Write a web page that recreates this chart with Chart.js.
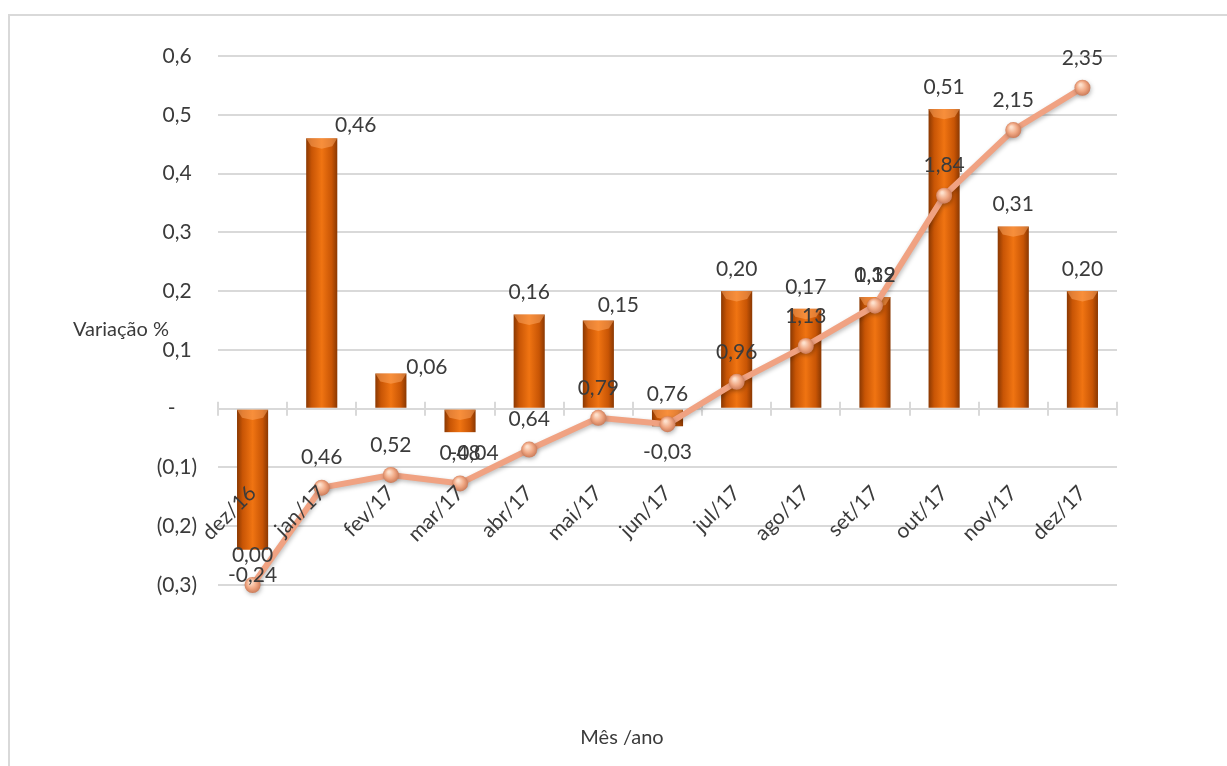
<!DOCTYPE html>
<html lang="pt">
<head>
<meta charset="utf-8">
<script src="https://cdn.jsdelivr.net/npm/chart.js@4.4.1/dist/chart.umd.min.js"></script>
<style>
 html, body { margin: 0; padding: 0; background: #fff; overflow: hidden; }
 #wrap { position: relative; width: 1227px; height: 766px; }
 #frame { position: absolute; left: 8px; top: 14px; width: 1300px; height: 800px; border: 2px solid #d9d9d9; box-sizing: border-box; }
 canvas { position: absolute; left: 0; top: 0; }
</style>
</head>
<body>
<div id="wrap">
 <div id="frame"></div>
 <canvas id="grafico" width="1227" height="766"></canvas>
</div>
<script>
// dados
const meses = ["dez/16", "jan/17", "fev/17", "mar/17", "abr/17", "mai/17", "jun/17",
 "jul/17", "ago/17", "set/17", "out/17", "nov/17", "dez/17"];
const variacaoMensal = [-0.24, 0.46, 0.06, -0.04, 0.16, 0.15, -0.03, 0.20, 0.17, 0.19, 0.51, 0.31, 0.20];
const acumulado = [0.00, 0.46, 0.52, 0.48, 0.64, 0.79, 0.76, 0.96, 1.13, 1.32, 1.84, 2.15, 2.35];
const limitesY = [-0.3, 0.6];
const limitesAcum = [0, 2.5];

const FONTE = "Lato, 'Open Sans', sans-serif";
const COR_TEXTO = "#3b3b3b";
const LARGURA_BARRA = 0.45;

// deslocamentos manuais dos rótulos das barras (como no original)
const ajusteRotulos = { 1: [34, 9], 2: [36, 16], 3: [14, -5], 5: [20, 7] };

const virgula = (v, casas) => v.toFixed(casas).replace(".", ",");

function rotuloEixoY(v) {
 if (Math.abs(v) < 1e-9) return "-    ";
 if (v > 0) return virgula(v, 1) + " ";
 return "(" + virgula(-v, 1) + ")";
}

function corBarra(ctx) {
 const chart = ctx.chart;
 const x = chart.scales.x;
 if (!x || !chart.chartArea) return "#e8680c";
 const cx = x.getPixelForValue(ctx.dataIndex);
 const w = (x.width / meses.length) * LARGURA_BARRA;
 const g = chart.ctx.createLinearGradient(cx - w / 2, 0, cx + w / 2, 0);
 g.addColorStop(0, "#8a3802");
 g.addColorStop(0.18, "#c85505");
 g.addColorStop(0.5, "#f07412");
 g.addColorStop(0.82, "#c85505");
 g.addColorStop(1, "#8a3802");
 return g;
}

function corPonto(ctx) {
 const chart = ctx.chart;
 const x = chart.scales.x, y2 = chart.scales.y2;
 if (!x || !y2 || !chart.chartArea) return "#eea07e";
 const px = x.getPixelForValue(ctx.dataIndex);
 const py = y2.getPixelForValue(acumulado[ctx.dataIndex]);
 const g = chart.ctx.createRadialGradient(px - 2, py - 3, 1, px, py, 9);
 g.addColorStop(0, "#fde0cc");
 g.addColorStop(0.5, "#f0a884");
 g.addColorStop(1, "#c47250");
 return g;
}

const chanfro = {
 id: "chanfro",
 afterDatasetDraw(chart, args) {
  if (args.index !== 0) return;
  const c = chart.ctx;
  c.save();
  args.meta.data.forEach((el) => {
   const w = el.width;
   const topo = Math.min(el.y, el.base);
   const alt = Math.abs(el.base - el.y);
   const h = Math.min(8, alt / 2);
   const l = el.x - w / 2, r = el.x + w / 2;
   c.beginPath();
   c.moveTo(l, topo);
   c.lineTo(r, topo);
   c.lineTo(r - 5, topo + h);
   c.lineTo(el.x, topo + h * 1.3);
   c.lineTo(l + 5, topo + h);
   c.closePath();
   c.fillStyle = "rgba(255, 170, 100, 0.5)";
   c.fill();
  });
  c.restore();
 },
};

const sombraLinha = {
 id: "sombraLinha",
 beforeDatasetDraw(chart, args) {
  if (args.index !== 1) return;
  chart.ctx.save();
  chart.ctx.shadowColor = "rgba(0,0,0,0.25)";
  chart.ctx.shadowBlur = 4;
  chart.ctx.shadowOffsetX = 1;
  chart.ctx.shadowOffsetY = 2;
 },
 afterDatasetDraw(chart, args) {
  if (args.index !== 1) return;
  chart.ctx.restore();
 },
};

const marcasEixoX = {
 id: "marcasEixoX",
 beforeDatasetsDraw(chart) {
  const c = chart.ctx;
  const x = chart.scales.x, y = chart.scales.y;
  const y0 = y.getPixelForValue(0);
  const passo = x.width / meses.length;
  c.save();
  c.strokeStyle = "#d9d9d9";
  c.lineWidth = 2;
  c.beginPath();
  for (let i = 0; i <= meses.length; i++) {
   const px = Math.round(x.left + i * passo);
   c.moveTo(px, y0 - 7);
   c.lineTo(px, y0 + 7);
  }
  c.stroke();
  c.restore();
 },
};

const rotulos = {
 id: "rotulos",
 afterDatasetsDraw(chart) {
  const c = chart.ctx;
  c.save();
  c.font = `21px ${FONTE}`;
  c.fillStyle = COR_TEXTO;
  c.textAlign = "center";
  c.textBaseline = "middle";

  const barras = chart.getDatasetMeta(0).data;
  barras.forEach((el, i) => {
   const v = variacaoMensal[i];
   const aj = ajusteRotulos[i] || [0, 0];
   const y = v >= 0 ? el.y - 22 : el.y + 26;
   c.fillText(virgula(v, 2), el.x + aj[0], y + aj[1]);
  });

  const pontos = chart.getDatasetMeta(1).data;
  pontos.forEach((el, i) => {
   c.fillText(virgula(acumulado[i], 2), el.x, el.y - 30);
  });

  // títulos dos eixos
  c.font = `20px ${FONTE}`;
  c.textAlign = "left";
  c.fillText("Variação %", 73, chart.scales.y.getPixelForValue(0.15) + 9);
  c.textAlign = "center";
  c.fillText("Mês /ano", 622, 738);
  c.restore();
 },
};

new Chart(document.getElementById("grafico"), {
 data: {
  labels: meses,
  datasets: [
   {
    type: "bar",
    label: "Variação mensal",
    data: variacaoMensal,
    backgroundColor: corBarra,
    borderWidth: 0,
    categoryPercentage: 1,
    barPercentage: LARGURA_BARRA,
    yAxisID: "y",
    order: 2,
   },
   {
    type: "line",
    label: "Acumulado",
    data: acumulado,
    borderColor: "#f0a282",
    borderWidth: 6,
    pointRadius: 8,
    pointBackgroundColor: corPonto,
    pointBorderWidth: 0,
    tension: 0,
    clip: false,
    yAxisID: "y2",
    order: 1,
   },
  ],
 },
 options: {
  responsive: false,
  animation: false,
  devicePixelRatio: 1,
  layout: { padding: { left: 0, right: 110, top: 56, bottom: 181 } },
  plugins: { legend: { display: false }, tooltip: { enabled: false } },
  scales: {
   x: {
    type: "category",
    position: { y: 0 },
    offset: true,
    grid: { display: false },
    border: { display: false },
    ticks: {
     z: 1,
     autoSkip: false,
     minRotation: 45,
     maxRotation: 45,
     padding: 64,
     color: COR_TEXTO,
     font: { family: FONTE, size: 21 },
    },
   },
   y: {
    position: "left",
    min: limitesY[0],
    max: limitesY[1],
    afterFit(scale) { scale.width = 218; },
    grid: { color: "#d9d9d9", lineWidth: 2, drawTicks: false },
    border: { display: false },
    ticks: {
     stepSize: 0.1,
     padding: 21,
     color: COR_TEXTO,
     font: { family: FONTE, size: 21 },
     callback: (v) => rotuloEixoY(v),
    },
   },
   y2: {
    display: false,
    position: "right",
    min: limitesAcum[0],
    max: limitesAcum[1],
   },
  },
 },
 plugins: [marcasEixoX, chanfro, sombraLinha, rotulos],
});
</script>
</body>
</html>
